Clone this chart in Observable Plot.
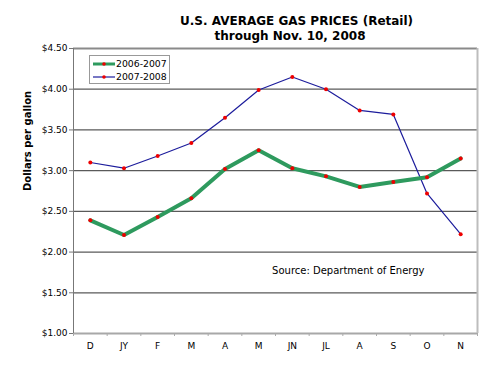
<!DOCTYPE html>
<html>
<head>
<meta charset="utf-8">
<script src="https://cdn.jsdelivr.net/npm/d3@7"></script>
<script src="https://cdn.jsdelivr.net/npm/@observablehq/plot@0.6"></script>
<style>
  html, body { margin: 0; padding: 0; background: #fff; }
  #wrap { position: relative; width: 500px; height: 366px; font-family: "DejaVu Sans", Verdana, sans-serif; }
  #title { position: absolute; left: 180px; width: 220px; top: 14px; text-align: center; font-weight: bold; font-size: 12px; line-height: 15px; color: #000; white-space: nowrap; }
  #legend { position: absolute; left: 89px; top: 55px; width: 79px; height: 27px; border: 1px solid #999; background: #fff; font-size: 9.3px; white-space: nowrap; }
  .li { position: absolute; left: 3px; height: 13px; display: flex; align-items: center; white-space: nowrap; }
  .li svg { margin-right: 1px; flex: none; }
</style>
</head>
<body>
<div id="wrap">
  <div id="title">U.S. AVERAGE GAS PRICES (Retail)<br>through Nov. 10, 2008</div>
  <div id="chart"></div>
  <div id="legend"></div>
</div>
<script>
const months = ["D","JY","F","M","A","M","JN","JL","A","S","O","N"];
const seriesNames = ["2006-2007","2007-2008"];
const prices0607 = [2.39,2.21,2.43,2.66,3.02,3.25,3.03,2.93,2.80,2.86,2.92,3.15];
const prices0708 = [3.10,3.03,3.18,3.34,3.65,3.99,4.15,4.00,3.74,3.69,2.72,2.22];
const yTicks = [1.0,1.5,2.0,2.5,3.0,3.5,4.0,4.5];
const sourceNote = "Source: Department of Energy";

const colors = {"2006-2007": "#2e9a5e", "2007-2008": "#1c1c9c"};
const widths = {"2006-2007": 4, "2007-2008": 1.2};

const rows = [];
months.forEach((m, i) => {
  rows.push({i, m, series: seriesNames[0], v: prices0607[i]});
  rows.push({i, m, series: seriesNames[1], v: prices0708[i]});
});
const idx = months.map((m, i) => i);
const bounds = d3.range(-0.5, 12, 1);

const chart = Plot.plot({
  width: 500,
  height: 366,
  marginLeft: 73,
  marginRight: 23,
  marginTop: 48,
  marginBottom: 33,
  style: {fontFamily: "DejaVu Sans, Verdana, sans-serif", fontSize: "9px", color: "#000", background: "transparent"},
  x: {type: "linear", domain: [-0.5, 11.5]},
  y: {domain: [1, 4.5]},
  marks: [
    Plot.ruleY(yTicks.filter(d => d > 1 && d < 4.5), {y: d => d, stroke: "#5a5a5a", strokeWidth: 1.2}),
    Plot.ruleY([4.5], {stroke: "#8a8a8a", strokeWidth: 2}),
    Plot.ruleY([1], {stroke: "#a8a8a8", strokeWidth: 2}),
    Plot.ruleX([11.5], {stroke: "#bdbdbd", strokeWidth: 2}),
    Plot.ruleX([-0.5], {stroke: "#777", strokeWidth: 1}),
    Plot.axisY({ticks: yTicks, tickFormat: d => "$" + d.toFixed(2), tickSize: 4, tickPadding: 2, label: null, stroke: "#777"}),
    Plot.axisX({ticks: idx, tickFormat: i => months[i], tickSize: 0, tickPadding: 9, label: null}),
    Plot.axisX({ticks: bounds, tickFormat: () => "", tickSize: 3, label: null, stroke: "#aaa"}),
    Plot.text([sourceNote], {frameAnchor: "bottom-right", dx: -53, dy: -60, textAnchor: "end", fontSize: 10}),
    Plot.text(["Dollars per gallon"], {frameAnchor: "left", dx: -46, rotate: -90, fontWeight: "bold", fontSize: 10}),
    Plot.line(rows.filter(d => d.series === seriesNames[1]), {x: "i", y: "v", stroke: colors["2007-2008"], strokeWidth: widths["2007-2008"]}),
    Plot.line(rows.filter(d => d.series === seriesNames[0]), {x: "i", y: "v", stroke: colors["2006-2007"], strokeWidth: widths["2006-2007"]}),
    Plot.dot(rows, {x: "i", y: "v", r: 2, fill: "#ee0000", stroke: "none"})
  ]
});
document.getElementById("chart").appendChild(chart);

const legend = document.getElementById("legend");
seriesNames.forEach((s, k) => {
  const item = document.createElement("div");
  item.className = "li";
  item.style.top = (1 + k * 13) + "px";
  item.innerHTML = `<svg width="22" height="8"><line x1="0" x2="22" y1="4" y2="4" stroke="${colors[s]}" stroke-width="${widths[s] === 4 ? 3 : 1.2}"/><circle cx="11" cy="4" r="1.8" fill="#ee0000"/></svg><span>${s}</span>`;
  legend.appendChild(item);
});
</script>
</body>
</html>
